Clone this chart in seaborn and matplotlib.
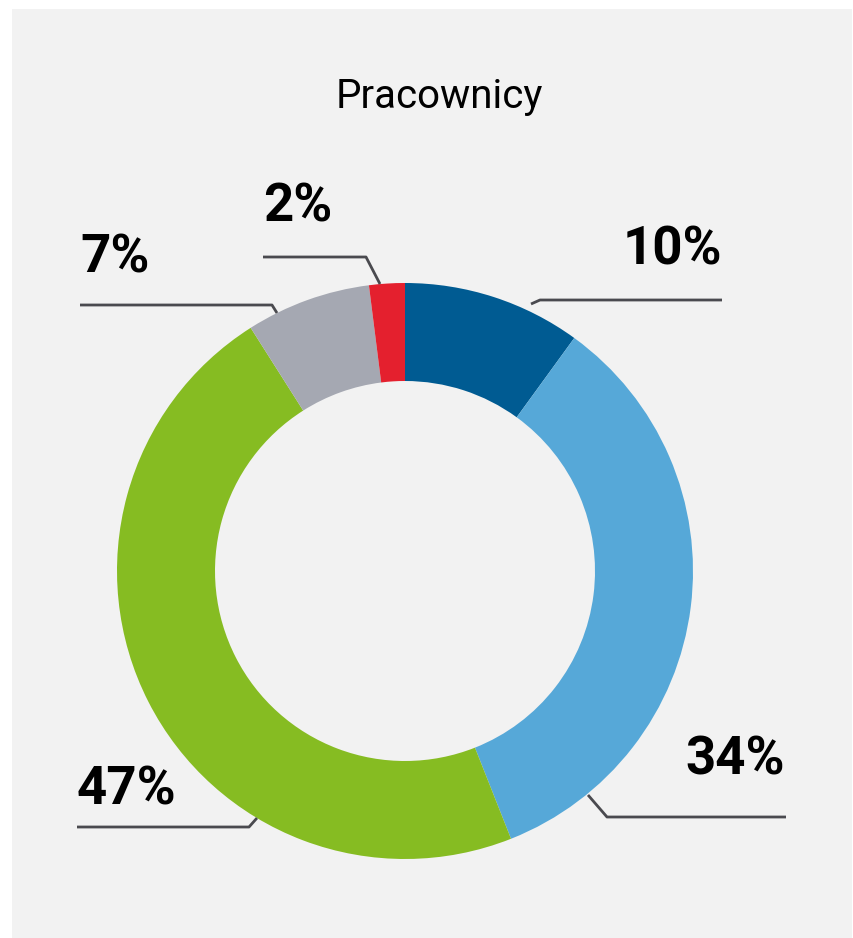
import matplotlib
matplotlib.use("Agg")
import matplotlib.pyplot as plt
import seaborn as sns
from matplotlib.patches import Rectangle

# data
title = "Pracownicy"
shares = [10, 34, 47, 7, 2]
labels = ["10%", "34%", "47%", "7%", "2%"]
colors = ["#005b92", "#56a8d8", "#86bc22", "#a5a8b2", "#e4202e"]

# label text anchors (pixel coords, y from top) and leader polylines
label_pos = [(722, 250, "right"), (785, 760, "right"), (77, 790, "left"),
             (80, 258, "left"), (263, 207, "left")]
leaders = [
    [(531, 304), (540, 300), (722, 300)],
    [(588, 795), (607, 817), (786, 817)],
    [(257, 818), (249, 827), (77, 827)],
    [(277, 313), (272, 305), (80, 305)],
    [(380, 284), (366, 257), (263, 257)],
]

W, H = 854, 938

sns.set_theme(style="white")
plt.rcParams['font.family'] = ['Roboto', 'DejaVu Sans']

fig = plt.figure(figsize=(W / 100, H / 100), dpi=100, facecolor="white")
ax = fig.add_axes([0, 0, 1, 1])
ax.axis("off")

# grey panel behind the chart
ax.add_patch(Rectangle((12, 0), 840, H - 9, facecolor="#f2f2f2",
                       edgecolor="none", zorder=0))

ax.pie(shares, colors=sns.color_palette(colors), startangle=90, counterclock=False,
       center=(405, H - 571), radius=288,
       wedgeprops=dict(width=98, linewidth=0, zorder=2))
ax.set_xlim(0, W)
ax.set_ylim(0, H)
ax.set_aspect("equal")
ax.set_position([0, 0, 1, 1])

for (x, y, ha), txt in zip(label_pos, labels):
    ax.text(x, H - y, txt, ha=ha, va="center", fontsize=38,
            fontweight="bold", color="black", zorder=3)

for pts in leaders:
    xs = [p[0] for p in pts]
    ys = [H - p[1] for p in pts]
    ax.plot(xs, ys, color="#4a4a4f", lw=2, solid_capstyle="butt", zorder=3)

ax.text(439, H - 96, title, ha="center", va="center", fontsize=29,
        fontweight="normal", color="black", zorder=3)

fig.savefig("out.png", dpi=100, facecolor="white")
